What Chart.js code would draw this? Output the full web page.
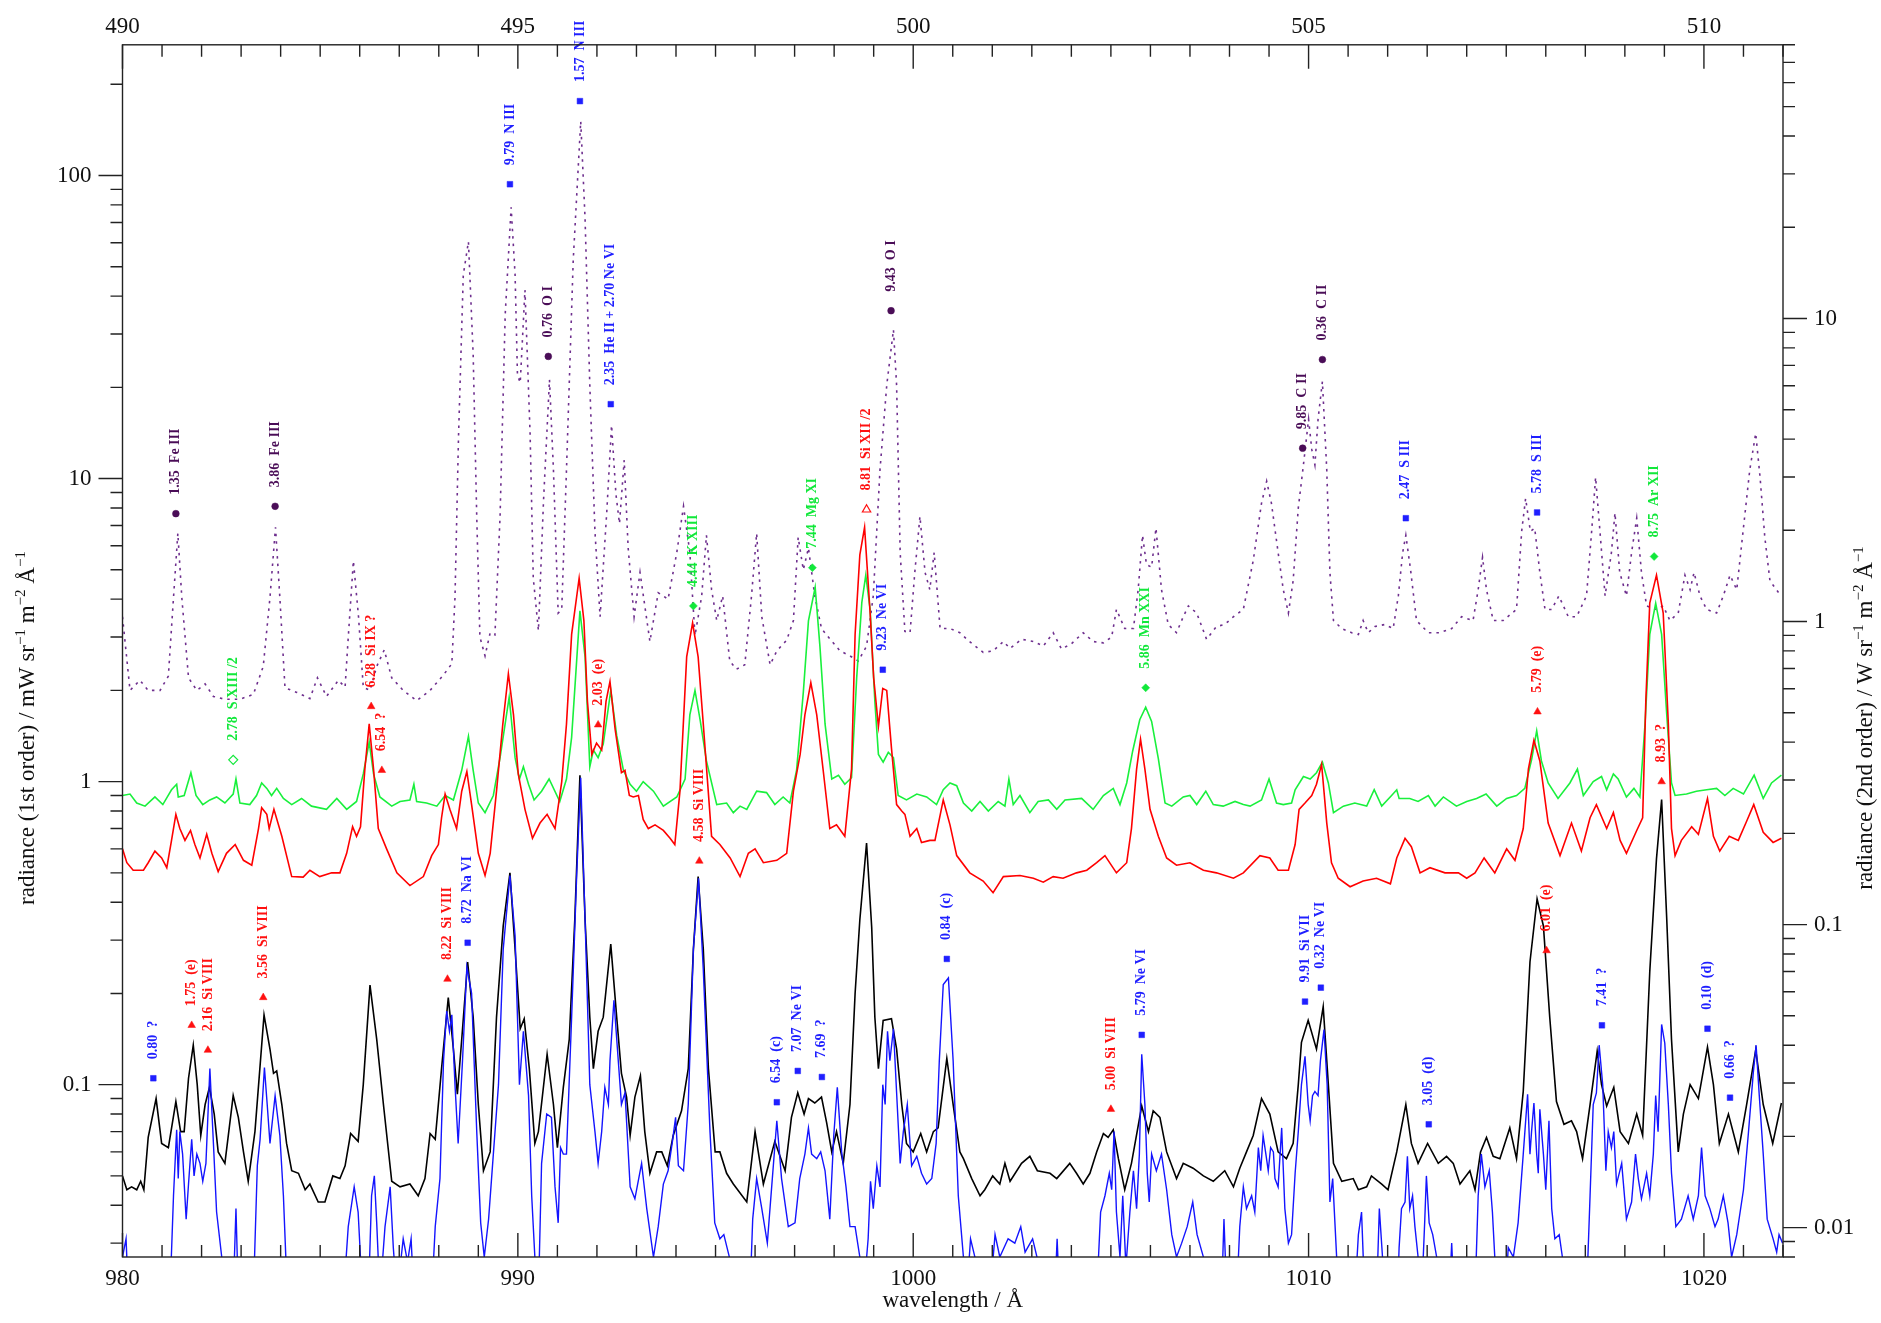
<!DOCTYPE html>
<html lang="en">
<head>
<meta charset="UTF-8">
<title>Spectrum 980 - 1022 Å</title>
<script src="https://cdn.jsdelivr.net/npm/chart.js"></script>
<style>
  body { margin: 0; background: #fff; }
  #wrap { width: 1881px; height: 1323px; }
</style>
</head>
<body>
<div id="wrap"><canvas id="spec" width="1881" height="1323"></canvas></div>
<script>
// spectra: [wavelength (Å), radiance (1st order units)]
const purpleSpec = [
  [980.00,3.5],[980.19,2.0],[980.44,2.16],[980.65,2.0],[980.95,2.0],[981.16,2.23],[981.29,4.05],[981.40,6.6],[981.50,4.05],[981.67,2.2],
  [981.88,2.0],[982.09,2.1],[982.30,1.91],[982.59,1.87],[982.97,1.87],[983.31,1.94],[983.56,2.4],[983.73,4.05],[983.87,6.9],[983.98,4.05],
  [984.11,2.04],[984.41,1.97],[984.74,1.88],[984.93,2.2],[985.16,1.91],[985.46,2.16],[985.63,2.05],[985.71,2.99],[985.84,5.35],[985.97,3.5],
  [986.09,2.05],[986.26,2.0],[986.43,2.4],[986.62,2.72],[986.81,2.2],[987.10,2.0],[987.44,1.85],[987.78,2.0],[988.12,2.25],[988.33,2.45],
  [988.41,4.05],[988.50,13.9],[988.62,47],[988.75,60.5],[988.87,25.6],[988.96,7.5],[989.04,3.0],[989.17,2.6],[989.30,3.1],[989.42,3.05],
  [989.55,7.5],[989.68,34.8],[989.83,78.5],[989.93,47],[989.99,22],[990.06,20.7],[990.18,41.9],[990.31,14],[990.39,4.7],[990.52,3.15],
  [990.65,8.5],[990.80,21.2],[990.90,10.7],[991.02,3.6],[991.11,3.7],[991.23,10.7],[991.40,52.4],[991.59,151],[991.70,72],[991.82,20.3],
  [991.95,6.7],[992.08,3.5],[992.25,7.8],[992.37,15],[992.48,8.9],[992.57,7.1],[992.69,11.5],[992.79,5.9],[992.94,3.5],[993.09,4.9],
  [993.34,2.9],[993.55,4.2],[993.80,4.0],[994.02,5.7],[994.19,8.1],[994.35,5.7],[994.48,3.03],[994.65,4.1],[994.77,6.5],[994.90,4.3],
  [995.03,3.4],[995.18,4.1],[995.36,2.5],[995.53,2.35],[995.74,2.43],[995.91,4.1],[996.04,6.6],[996.17,3.5],[996.38,2.43],[996.55,2.7],
  [996.80,2.93],[996.97,3.4],[997.09,6.4],[997.22,5.0],[997.35,5.9],[997.51,4.1],[997.68,3.2],[997.89,2.96],[998.15,2.7],[998.40,2.6],
  [998.61,2.5],[998.82,2.8],[998.99,4.1],[999.16,10.7],[999.33,20.3],[999.50,31],[999.58,20.3],[999.67,5.7],[999.79,3.13],[999.92,3.1],
  [1000.04,4.9],[1000.17,7.5],[1000.30,4.9],[1000.42,4.3],[1000.53,5.7],[1000.68,3.2],[1000.93,3.2],[1001.18,3.1],[1001.42,2.9],[1001.77,2.67],
  [1002.02,2.7],[1002.28,2.9],[1002.45,2.75],[1002.74,2.95],[1003.04,2.9],[1003.29,2.8],[1003.54,3.1],[1003.75,2.74],[1004.00,2.85],[1004.30,3.1],
  [1004.55,2.9],[1004.81,2.87],[1005.02,3.0],[1005.14,3.7],[1005.35,3.2],[1005.57,3.2],[1005.69,4.3],[1005.80,6.5],[1005.90,5.2],[1006.03,5.1],
  [1006.14,6.86],[1006.28,4.3],[1006.45,3.3],[1006.66,3.1],[1006.83,3.5],[1006.96,3.8],[1007.17,3.6],[1007.42,2.95],[1007.67,3.25],[1007.88,3.3],
  [1008.10,3.5],[1008.35,3.7],[1008.60,5.36],[1008.81,8.3],[1008.94,9.8],[1009.06,8.3],[1009.23,5.7],[1009.36,4.3],[1009.49,3.6],[1009.61,4.6],
  [1009.74,8.0],[1009.87,11.1],[1010.00,15.7],[1010.08,12.5],[1010.16,11.1],[1010.24,15.7],[1010.35,20.9],[1010.46,10.7],[1010.54,4.9],[1010.63,3.4],
  [1010.84,3.2],[1011.09,3.1],[1011.26,3.06],[1011.38,3.4],[1011.51,3.1],[1011.68,3.25],[1011.93,3.3],[1012.14,3.2],[1012.27,4.1],[1012.38,5.7],
  [1012.46,6.5],[1012.58,5.0],[1012.73,3.4],[1013.03,3.1],[1013.32,3.1],[1013.62,3.2],[1013.87,3.5],[1014.16,3.4],[1014.29,4.3],[1014.40,5.5],
  [1014.50,4.3],[1014.67,3.4],[1014.92,3.4],[1015.26,3.7],[1015.39,6.7],[1015.49,8.6],[1015.61,6.7],[1015.72,6.86],[1015.85,4.9],[1015.98,3.7],
  [1016.15,3.7],[1016.33,4.1],[1016.57,3.5],[1016.78,3.5],[1017.03,4.1],[1017.16,6.7],[1017.26,10.1],[1017.37,6.7],[1017.50,4.1],[1017.66,5.7],
  [1017.75,7.7],[1017.87,4.9],[1018.04,4.1],[1018.17,5.7],[1018.30,7.4],[1018.42,4.9],[1018.55,3.8],[1018.80,3.7],[1018.97,3.8],[1019.14,3.4],
  [1019.35,3.6],[1019.52,4.8],[1019.65,4.3],[1019.75,4.9],[1019.90,4.1],[1020.07,3.7],[1020.32,3.6],[1020.49,4.1],[1020.66,4.8],[1020.83,4.3],
  [1020.99,6.7],[1021.16,10.7],[1021.31,14.1],[1021.42,10.1],[1021.54,6.4],[1021.67,4.6],[1021.92,4.15]
];

const redSpec = [
  [980.00,0.60],[980.11,0.54],[980.27,0.51],[980.53,0.51],[980.65,0.54],[980.82,0.59],[980.99,0.56],[981.12,0.52],[981.24,0.64],[981.35,0.78],
  [981.45,0.70],[981.58,0.64],[981.72,0.69],[981.83,0.62],[981.96,0.56],[982.13,0.67],[982.26,0.58],[982.42,0.505],[982.63,0.58],[982.85,0.62],
  [983.06,0.55],[983.27,0.53],[983.44,0.70],[983.52,0.82],[983.65,0.78],[983.71,0.70],[983.83,0.81],[984.03,0.66],[984.28,0.486],[984.57,0.484],
  [984.74,0.51],[984.99,0.486],[985.29,0.50],[985.50,0.50],[985.67,0.58],[985.82,0.71],[985.92,0.66],[986.02,0.71],[986.13,1.10],[986.24,1.55],
  [986.35,1.10],[986.47,0.70],[986.68,0.60],[986.94,0.50],[987.27,0.454],[987.61,0.486],[987.82,0.57],[987.99,0.62],[988.07,0.76],[988.16,0.91],
  [988.28,0.81],[988.45,0.70],[988.58,0.93],[988.71,1.08],[988.83,0.84],[989.00,0.58],[989.17,0.49],[989.30,0.58],[989.46,0.93],[989.62,1.55],
  [989.76,2.27],[989.89,1.66],[990.01,1.06],[990.18,0.81],[990.37,0.65],[990.56,0.73],[990.74,0.78],[990.94,0.70],[991.11,1.0],[991.23,1.55],
  [991.36,3.06],[991.55,4.69],[991.67,3.4],[991.76,1.84],[991.87,1.23],[991.99,1.34],[992.12,1.27],[992.23,1.84],[992.33,2.14],[992.46,1.49],
  [992.62,1.07],[992.71,1.09],[992.82,0.90],[992.92,0.89],[993.05,0.90],[993.17,0.75],[993.30,0.70],[993.47,0.72],[993.68,0.69],[993.85,0.65],
  [993.97,0.62],[994.10,0.93],[994.27,2.58],[994.42,3.34],[994.56,2.58],[994.69,1.55],[994.90,0.66],[995.11,0.62],[995.37,0.56],[995.62,0.486],
  [995.83,0.58],[996.00,0.60],[996.21,0.54],[996.55,0.55],[996.80,0.58],[996.97,0.93],[997.14,1.23],[997.26,1.66],[997.41,2.12],[997.56,1.66],
  [997.73,1.07],[997.89,0.70],[998.06,0.72],[998.27,0.66],[998.44,1.10],[998.53,3.06],[998.65,5.6],[998.77,6.9],[998.91,3.6],[999.00,2.2],
  [999.12,1.52],[999.23,2.03],[999.33,2.0],[999.45,1.29],[999.58,0.84],[999.71,0.80],[999.79,0.78],[999.92,0.66],[1000.09,0.70],[1000.21,0.63],
  [1000.42,0.64],[1000.55,0.64],[1000.76,0.87],[1000.93,0.72],[1001.10,0.57],[1001.43,0.50],[1001.77,0.47],[1002.02,0.43],[1002.28,0.486],[1002.70,0.49],
  [1003.04,0.48],[1003.29,0.466],[1003.54,0.486],[1003.79,0.48],[1004.13,0.50],[1004.39,0.51],[1004.64,0.54],[1004.85,0.57],[1005.14,0.50],[1005.40,0.54],
  [1005.52,0.70],[1005.65,1.10],[1005.75,1.38],[1005.86,1.10],[1005.99,0.81],[1006.20,0.66],[1006.41,0.56],[1006.66,0.53],[1007.00,0.54],[1007.34,0.51],
  [1007.67,0.50],[1008.10,0.48],[1008.35,0.50],[1008.77,0.57],[1009.02,0.56],[1009.23,0.51],[1009.49,0.51],[1009.66,0.62],[1009.76,0.81],[1009.91,0.85],
  [1010.08,0.90],[1010.20,0.98],[1010.33,1.14],[1010.46,0.73],[1010.58,0.54],[1010.75,0.48],[1011.05,0.45],[1011.38,0.47],[1011.72,0.48],[1012.07,0.46],
  [1012.23,0.56],[1012.44,0.65],[1012.60,0.61],[1012.82,0.50],[1013.07,0.52],[1013.45,0.50],[1013.79,0.50],[1014.00,0.48],[1014.21,0.50],[1014.44,0.56],
  [1014.71,0.50],[1015.01,0.60],[1015.22,0.55],[1015.43,0.70],[1015.56,1.10],[1015.70,1.37],[1015.85,1.17],[1016.06,0.73],[1016.36,0.57],[1016.65,0.73],
  [1016.90,0.59],[1017.12,0.76],[1017.28,0.84],[1017.54,0.70],[1017.71,0.79],[1017.88,0.64],[1018.04,0.58],[1018.30,0.69],[1018.45,0.76],[1018.53,1.84],
  [1018.63,3.88],[1018.80,4.8],[1018.97,3.6],[1019.10,1.55],[1019.18,0.70],[1019.27,0.57],[1019.43,0.64],[1019.69,0.71],[1019.86,0.67],[1020.09,0.88],
  [1020.24,0.66],[1020.40,0.59],[1020.64,0.66],[1020.87,0.64],[1021.08,0.74],[1021.26,0.84],[1021.50,0.68],[1021.75,0.63],[1021.96,0.65]
];

const greenSpec = [
  [980.00,0.90],[980.19,0.91],[980.36,0.85],[980.57,0.83],[980.82,0.89],[981.02,0.84],[981.24,0.94],[981.37,0.98],[981.41,0.89],[981.56,0.90],
  [981.73,1.07],[981.86,0.90],[982.03,0.84],[982.21,0.87],[982.38,0.89],[982.59,0.85],[982.80,0.91],[982.87,1.02],[982.97,0.85],[983.22,0.84],
  [983.39,0.90],[983.52,0.99],[983.65,0.95],[983.77,0.90],[983.90,0.95],[984.07,0.88],[984.28,0.84],[984.53,0.88],[984.78,0.83],[985.16,0.81],
  [985.42,0.88],[985.67,0.81],[985.92,0.86],[986.09,1.06],[986.24,1.35],[986.35,1.06],[986.51,0.89],[986.81,0.83],[987.02,0.86],[987.27,0.87],
  [987.37,0.98],[987.44,0.86],[987.69,0.85],[987.95,0.83],[988.16,0.90],[988.37,0.87],[988.58,1.09],[988.75,1.41],[988.87,1.09],[989.00,0.85],
  [989.17,0.79],[989.38,0.90],[989.55,1.2],[989.78,1.90],[989.93,1.2],[990.04,1.02],[990.14,1.12],[990.27,0.98],[990.41,0.87],[990.60,0.93],
  [990.79,1.02],[991.06,0.86],[991.23,1.02],[991.36,1.40],[991.57,3.66],[991.70,2.58],[991.82,1.12],[991.91,1.27],[992.03,1.20],[992.16,1.33],
  [992.35,2.0],[992.50,1.42],[992.67,1.09],[992.84,0.98],[993.00,0.93],[993.17,1.0],[993.43,0.93],[993.68,0.83],[994.02,0.89],[994.23,1.02],
  [994.35,1.66],[994.48,2.0],[994.61,1.6],[994.77,1.17],[995.03,0.84],[995.28,0.85],[995.45,0.79],[995.62,0.83],[995.79,0.81],[996.04,0.93],
  [996.29,0.92],[996.50,0.84],[996.71,0.89],[996.88,0.85],[997.05,1.09],[997.22,1.97],[997.35,3.39],[997.52,4.38],[997.64,2.8],[997.77,1.55],
  [997.94,1.02],[998.11,1.05],[998.27,0.98],[998.44,1.03],[998.57,2.2],[998.70,3.9],[998.80,4.8],[998.91,3.7],[999.03,1.84],[999.12,1.23],
  [999.24,1.16],[999.37,1.25],[999.50,1.2],[999.62,0.90],[999.83,0.87],[1000.09,0.91],[1000.34,0.89],[1000.59,0.84],[1000.76,0.94],[1000.93,0.99],
  [1001.10,0.97],[1001.27,0.85],[1001.48,0.80],[1001.69,0.86],[1001.90,0.80],[1002.15,0.86],[1002.32,0.83],[1002.42,1.02],[1002.53,0.84],[1002.70,0.90],
  [1002.95,0.79],[1003.16,0.86],[1003.42,0.87],[1003.63,0.81],[1003.84,0.87],[1004.26,0.88],[1004.55,0.81],[1004.81,0.90],[1005.06,0.95],[1005.23,0.84],
  [1005.40,0.99],[1005.55,1.26],[1005.73,1.60],[1005.88,1.76],[1006.03,1.58],[1006.20,1.19],[1006.37,0.85],[1006.54,0.83],[1006.83,0.89],[1007.00,0.90],
  [1007.17,0.84],[1007.40,0.93],[1007.59,0.84],[1007.84,0.83],[1008.14,0.86],[1008.35,0.84],[1008.52,0.83],[1008.81,0.87],[1009.00,1.02],[1009.19,0.85],
  [1009.36,0.84],[1009.57,0.85],[1009.66,0.94],[1009.87,1.04],[1010.04,1.02],[1010.20,1.07],[1010.35,1.16],[1010.50,0.99],[1010.63,0.79],[1010.88,0.83],
  [1011.17,0.85],[1011.47,0.83],[1011.66,0.94],[1011.85,0.83],[1012.10,0.90],[1012.23,0.94],[1012.29,0.88],[1012.56,0.88],[1012.77,0.86],[1013.03,0.90],
  [1013.20,0.83],[1013.41,0.89],[1013.74,0.83],[1014.00,0.86],[1014.25,0.88],[1014.49,0.91],[1014.76,0.83],[1015.01,0.88],[1015.26,0.90],[1015.47,0.95],
  [1015.64,1.18],[1015.77,1.47],[1015.89,1.17],[1016.06,0.99],[1016.31,0.88],[1016.61,0.99],[1016.80,1.10],[1016.95,0.90],[1017.20,1.0],[1017.41,1.04],
  [1017.54,0.94],[1017.71,1.06],[1017.83,1.02],[1018.04,0.89],[1018.23,0.95],[1018.38,0.89],[1018.51,1.55],[1018.63,3.06],[1018.78,3.88],[1018.93,3.06],
  [1019.06,1.66],[1019.18,0.99],[1019.27,0.90],[1019.56,0.91],[1019.81,0.93],[1020.07,0.94],[1020.32,0.95],[1020.53,0.90],[1020.74,0.95],[1021.00,0.91],
  [1021.27,1.05],[1021.50,0.88],[1021.71,0.99],[1021.96,1.05]
];

const blackSpec = [
  [980.00,0.050],[980.11,0.045],[980.23,0.046],[980.36,0.045],[980.46,0.048],[980.54,0.045],[980.65,0.067],[980.85,0.090],[980.99,0.064],[981.16,0.062],
  [981.35,0.088],[981.47,0.070],[981.56,0.070],[981.67,0.105],[981.79,0.135],[981.89,0.10],[981.98,0.068],[982.09,0.086],[982.20,0.098],[982.32,0.080],
  [982.42,0.060],[982.59,0.055],[982.80,0.092],[982.93,0.078],[983.06,0.060],[983.18,0.048],[983.35,0.070],[983.58,0.170],[983.73,0.131],[983.82,0.109],
  [983.90,0.111],[984.03,0.086],[984.15,0.064],[984.28,0.052],[984.45,0.051],[984.62,0.045],[984.74,0.047],[984.95,0.041],[985.12,0.041],[985.32,0.050],
  [985.50,0.049],[985.63,0.054],[985.77,0.069],[985.96,0.065],[986.09,0.100],[986.26,0.213],[986.43,0.141],[986.60,0.086],[986.81,0.048],[987.02,0.046],
  [987.27,0.047],[987.48,0.043],[987.65,0.049],[987.78,0.069],[987.91,0.066],[988.07,0.113],[988.24,0.194],[988.37,0.131],[988.47,0.093],[988.58,0.141],
  [988.73,0.254],[988.87,0.167],[989.00,0.086],[989.13,0.052],[989.30,0.060],[989.46,0.167],[989.63,0.334],[989.80,0.50],[989.93,0.28],[990.06,0.153],
  [990.16,0.165],[990.29,0.113],[990.43,0.064],[990.52,0.070],[990.74,0.126],[990.90,0.086],[991.00,0.062],[991.15,0.098],[991.30,0.141],[991.44,0.35],
  [991.57,1.05],[991.70,0.35],[991.82,0.167],[991.91,0.113],[992.03,0.15],[992.16,0.167],[992.35,0.291],[992.50,0.167],[992.62,0.109],[992.75,0.091],
  [992.84,0.068],[992.96,0.091],[993.10,0.107],[993.21,0.070],[993.34,0.051],[993.51,0.060],[993.64,0.060],[993.78,0.054],[993.93,0.068],[994.14,0.082],
  [994.31,0.113],[994.44,0.28],[994.56,0.486],[994.69,0.28],[994.82,0.113],[994.99,0.060],[995.11,0.060],[995.28,0.051],[995.45,0.047],[995.79,0.041],
  [996.00,0.070],[996.21,0.047],[996.50,0.065],[996.76,0.052],[996.92,0.078],[997.08,0.094],[997.24,0.080],[997.35,0.090],[997.51,0.087],[997.68,0.091],
  [997.81,0.075],[997.94,0.060],[998.06,0.070],[998.23,0.055],[998.40,0.086],[998.53,0.20],[998.65,0.35],[998.82,0.627],[998.95,0.33],[999.03,0.167],
  [999.12,0.113],[999.24,0.163],[999.45,0.165],[999.58,0.131],[999.71,0.086],[999.83,0.064],[1000.00,0.060],[1000.19,0.069],[1000.34,0.060],[1000.51,0.070],
  [1000.63,0.072],[1000.85,0.122],[1001.01,0.086],[1001.18,0.060],[1001.27,0.057],[1001.48,0.049],[1001.69,0.043],[1001.81,0.045],[1002.01,0.050],[1002.19,0.047],
  [1002.32,0.055],[1002.45,0.048],[1002.74,0.055],[1002.95,0.058],[1003.14,0.052],[1003.46,0.051],[1003.63,0.049],[1003.96,0.055],[1004.13,0.051],[1004.30,0.047],
  [1004.47,0.051],[1004.64,0.060],[1004.81,0.069],[1004.93,0.067],[1005.06,0.071],[1005.19,0.057],[1005.35,0.045],[1005.52,0.055],[1005.78,0.085],[1005.95,0.070],
  [1006.07,0.082],[1006.24,0.078],[1006.41,0.060],[1006.66,0.049],[1006.83,0.055],[1007.08,0.053],[1007.34,0.050],[1007.59,0.048],[1007.88,0.052],[1008.10,0.046],
  [1008.26,0.053],[1008.43,0.060],[1008.60,0.068],[1008.81,0.090],[1009.02,0.080],[1009.23,0.060],[1009.44,0.057],[1009.61,0.064],[1009.74,0.100],[1009.82,0.138],
  [1009.99,0.163],[1010.20,0.131],[1010.37,0.181],[1010.50,0.100],[1010.63,0.055],[1010.84,0.048],[1011.13,0.049],[1011.26,0.045],[1011.47,0.046],[1011.59,0.050],
  [1011.85,0.047],[1012.01,0.045],[1012.23,0.060],[1012.46,0.086],[1012.60,0.064],[1012.77,0.055],[1013.01,0.064],[1013.28,0.055],[1013.49,0.058],[1013.66,0.055],
  [1013.83,0.047],[1014.08,0.052],[1014.21,0.045],[1014.35,0.060],[1014.50,0.067],[1014.67,0.058],[1014.84,0.057],[1015.09,0.072],[1015.26,0.057],[1015.43,0.095],
  [1015.60,0.254],[1015.78,0.41],[1015.94,0.334],[1016.10,0.167],[1016.27,0.088],[1016.46,0.074],[1016.65,0.076],[1016.78,0.070],[1016.93,0.057],[1017.12,0.086],
  [1017.30,0.129],[1017.41,0.100],[1017.54,0.085],[1017.72,0.098],[1017.88,0.070],[1018.09,0.064],[1018.30,0.080],[1018.45,0.068],[1018.63,0.236],[1018.80,0.557],
  [1018.93,0.873],[1019.06,0.35],[1019.18,0.141],[1019.35,0.060],[1019.48,0.080],[1019.65,0.100],[1019.86,0.090],[1020.09,0.133],[1020.24,0.100],[1020.39,0.064],
  [1020.62,0.080],[1020.87,0.060],[1021.08,0.086],[1021.31,0.130],[1021.50,0.086],[1021.74,0.064],[1021.96,0.087]
];

const blueSpec = [
  [980.00,0.027],[980.09,0.031],[980.15,0.02],[981.20,0.02],[981.29,0.043],[981.37,0.071],[981.41,0.049],[981.45,0.070],[981.52,0.059],[981.61,0.036],
  [981.67,0.047],[981.75,0.066],[981.81,0.050],[981.88,0.059],[981.96,0.055],[982.03,0.048],[982.11,0.055],[982.21,0.113],[982.30,0.064],[982.38,0.038],
  [982.51,0.027],[982.59,0.02],[982.80,0.02],[982.87,0.039],[982.93,0.02],[983.31,0.02],[983.41,0.054],[983.48,0.066],[983.59,0.114],[983.66,0.086],
  [983.73,0.064],[983.86,0.092],[983.98,0.068],[984.07,0.043],[984.17,0.02],[985.59,0.02],[985.71,0.034],[985.86,0.046],[985.96,0.038],[986.07,0.02],
  [986.22,0.02],[986.30,0.043],[986.37,0.050],[986.43,0.035],[986.51,0.02],[986.64,0.034],[986.77,0.046],[986.85,0.029],[986.94,0.02],[987.10,0.031],
  [987.21,0.026],[987.30,0.031],[987.37,0.02],[987.82,0.02],[987.91,0.034],[988.03,0.049],[988.12,0.12],[988.20,0.175],[988.27,0.15],[988.33,0.17],
  [988.41,0.10],[988.49,0.064],[988.60,0.12],[988.71,0.245],[988.83,0.20],[988.96,0.070],[989.06,0.035],[989.15,0.027],[989.26,0.036],[989.38,0.059],
  [989.51,0.10],[989.63,0.28],[989.80,0.49],[989.93,0.31],[990.04,0.10],[990.14,0.15],[990.27,0.092],[990.35,0.043],[990.43,0.027],[990.52,0.02],
  [990.60,0.055],[990.73,0.08],[990.85,0.078],[990.94,0.046],[991.02,0.035],[991.08,0.062],[991.15,0.059],[991.23,0.059],[991.36,0.167],[991.49,0.50],
  [991.59,1.03],[991.70,0.35],[991.82,0.10],[991.95,0.070],[992.03,0.055],[992.12,0.070],[992.20,0.098],[992.29,0.086],[992.33,0.12],[992.43,0.19],
  [992.54,0.12],[992.62,0.086],[992.71,0.094],[992.84,0.046],[992.96,0.042],[993.13,0.055],[993.26,0.039],[993.43,0.027],[993.55,0.034],[993.68,0.047],
  [993.80,0.052],[993.91,0.065],[993.99,0.078],[994.06,0.054],[994.19,0.052],[994.31,0.086],[994.44,0.28],[994.57,0.48],[994.69,0.24],[994.86,0.070],
  [994.98,0.035],[995.11,0.031],[995.21,0.032],[995.35,0.027],[995.45,0.02],[995.87,0.02],[995.94,0.036],[996.04,0.049],[996.17,0.039],[996.31,0.030],
  [996.42,0.046],[996.55,0.076],[996.67,0.049],[996.84,0.034],[997.01,0.035],[997.13,0.049],[997.26,0.059],[997.35,0.072],[997.43,0.059],[997.56,0.057],
  [997.66,0.060],[997.77,0.052],[997.89,0.036],[997.99,0.068],[998.08,0.098],[998.19,0.060],[998.30,0.046],[998.40,0.034],[998.53,0.034],[998.65,0.027],
  [998.74,0.02],[998.86,0.031],[998.92,0.048],[998.99,0.039],[999.08,0.054],[999.16,0.046],[999.23,0.10],[999.29,0.086],[999.35,0.15],[999.41,0.12],
  [999.50,0.153],[999.58,0.094],[999.67,0.055],[999.75,0.070],[999.85,0.086],[999.96,0.054],[1000.09,0.058],[1000.21,0.051],[1000.34,0.047],[1000.47,0.049],
  [1000.58,0.064],[1000.66,0.12],[1000.76,0.214],[1000.89,0.225],[1001.01,0.12],[1001.14,0.043],[1001.27,0.027],[1001.35,0.02],[1001.45,0.031],[1001.56,0.027],
  [1001.65,0.02],[1001.94,0.02],[1002.07,0.032],[1002.19,0.027],[1002.40,0.031],[1002.57,0.030],[1002.72,0.034],[1002.83,0.028],[1003.02,0.031],[1003.16,0.026],
  [1003.25,0.02],[1003.58,0.02],[1003.64,0.031],[1003.70,0.02],[1004.64,0.02],[1004.74,0.038],[1004.85,0.043],[1004.96,0.051],[1005.02,0.045],[1005.08,0.070],
  [1005.14,0.038],[1005.23,0.027],[1005.30,0.043],[1005.38,0.025],[1005.48,0.038],[1005.57,0.052],[1005.65,0.039],[1005.72,0.059],[1005.78,0.126],[1005.86,0.086],
  [1005.92,0.051],[1005.97,0.041],[1006.03,0.059],[1006.15,0.052],[1006.28,0.059],[1006.41,0.045],[1006.54,0.032],[1006.66,0.027],[1006.79,0.030],[1006.93,0.034],
  [1007.07,0.041],[1007.18,0.032],[1007.34,0.027],[1007.42,0.02],[1007.80,0.02],[1007.86,0.036],[1007.93,0.02],[1008.18,0.02],[1008.26,0.034],[1008.35,0.046],
  [1008.43,0.039],[1008.56,0.043],[1008.64,0.038],[1008.73,0.062],[1008.79,0.052],[1008.85,0.068],[1008.92,0.059],[1008.98,0.052],[1009.04,0.062],[1009.11,0.060],
  [1009.15,0.049],[1009.23,0.046],[1009.32,0.072],[1009.40,0.039],[1009.49,0.030],[1009.57,0.032],[1009.66,0.051],[1009.74,0.070],[1009.82,0.10],[1009.91,0.124],
  [1009.99,0.086],[1010.04,0.076],[1010.10,0.092],[1010.16,0.095],[1010.24,0.092],[1010.30,0.12],[1010.39,0.152],[1010.47,0.10],[1010.54,0.041],[1010.61,0.049],
  [1010.71,0.027],[1010.79,0.02],[1011.17,0.02],[1011.26,0.032],[1011.34,0.038],[1011.42,0.02],[1011.72,0.02],[1011.79,0.039],[1011.87,0.027],[1011.95,0.02],
  [1012.25,0.02],[1012.29,0.029],[1012.35,0.039],[1012.44,0.041],[1012.50,0.058],[1012.56,0.039],[1012.63,0.043],[1012.69,0.034],[1012.77,0.027],[1012.86,0.02],
  [1012.94,0.036],[1012.98,0.050],[1013.05,0.035],[1013.14,0.032],[1013.24,0.027],[1013.32,0.02],[1013.56,0.02],[1013.62,0.030],[1013.68,0.02],[1014.21,0.02],
  [1014.29,0.043],[1014.37,0.059],[1014.46,0.046],[1014.57,0.052],[1014.65,0.038],[1014.71,0.027],[1014.80,0.02],[1014.98,0.02],[1015.05,0.029],[1015.18,0.027],
  [1015.30,0.035],[1015.43,0.059],[1015.54,0.093],[1015.60,0.059],[1015.64,0.070],[1015.70,0.087],[1015.77,0.059],[1015.81,0.051],[1015.85,0.083],[1015.94,0.059],
  [1016.00,0.045],[1016.08,0.076],[1016.15,0.039],[1016.23,0.031],[1016.34,0.032],[1016.42,0.027],[1016.52,0.02],[1017.03,0.02],[1017.12,0.043],[1017.20,0.086],
  [1017.28,0.094],[1017.35,0.135],[1017.44,0.10],[1017.52,0.052],[1017.58,0.070],[1017.66,0.062],[1017.72,0.070],[1017.79,0.047],[1017.92,0.055],[1018.04,0.036],
  [1018.17,0.041],[1018.27,0.059],[1018.34,0.049],[1018.42,0.042],[1018.55,0.051],[1018.63,0.043],[1018.72,0.059],[1018.78,0.092],[1018.84,0.070],[1018.93,0.158],
  [1019.01,0.137],[1019.10,0.086],[1019.18,0.051],[1019.29,0.034],[1019.43,0.036],[1019.60,0.043],[1019.73,0.036],[1019.86,0.043],[1019.94,0.062],[1020.03,0.043],
  [1020.15,0.039],[1020.28,0.034],[1020.36,0.036],[1020.49,0.043],[1020.61,0.035],[1020.70,0.027],[1020.83,0.032],[1021.00,0.045],[1021.12,0.068],[1021.25,0.11],
  [1021.32,0.135],[1021.40,0.092],[1021.50,0.059],[1021.60,0.036],[1021.75,0.031],[1021.84,0.028],[1021.90,0.032],[1021.99,0.030]
];

// line identifications: [wavelength, marker level, label]
const purpleIds = [
  [981.35, 7.66, '1.35  Fe III'], [983.86, 8.1, '3.86  Fe III'], [990.77, 25.3, '0.76  O I'],
  [999.44, 35.8, '9.43  O I'], [1009.85, 12.6, '9.85  C II'], [1010.35, 24.7, '0.36  C II']
];
const blueIds = [
  [989.80, 93.6, '9.79  N III'], [991.57, 176, '1.57  N III'], [992.35, 17.6, '2.35  He II + 2.70 Ne VI'],
  [999.23, 2.34, '9.23  Ne VI'], [1012.46, 7.4, '2.47  S III'], [1015.78, 7.73, '5.78  S III'],
  [980.78, 0.105, '0.80  ?'], [988.73, 0.294, '8.72  Na VI'], [1000.85, 0.26, '0.84  (c)'],
  [996.55, 0.0875, '6.54  (c)'], [997.08, 0.111, '7.07  Ne VI'], [997.69, 0.106, '7.69  ?'],
  [1005.78, 0.146, '5.79  Ne VI'], [1009.91, 0.188, '9.91  Si VII'], [1010.31, 0.209, '0.32  Ne VI'],
  [1013.04, 0.074, '3.05  (d)'], [1017.42, 0.157, '7.41  ?'], [1020.09, 0.153, '0.10  (d)'],
  [1020.66, 0.0906, '0.66  ?']
];
const redIds = [
  [986.29, 1.77, '6.28  Si IX ?'], [986.56, 1.09, '6.54  ?'], [992.03, 1.54, '2.03  (e)'],
  [994.59, 0.547, '4.58  Si VIII'], [1015.79, 1.70, '5.79  (e)'], [1018.93, 1.0, '8.93  ?'],
  [1016.02, 0.277, '6.01  (e)'], [981.75, 0.157, '1.75  (e)'], [982.16, 0.13, '2.16  Si VIII'],
  [983.56, 0.194, '3.56  Si VIII'], [988.22, 0.223, '8.22  Si VIII'], [1005.00, 0.083, '5.00  Si VIII']
];
const redOpenIds = [[998.82, 7.9, '8.81  Si XII /2']];
const greenIds = [
  [994.44, 3.8, '4.44  K XIII'], [997.45, 5.08, '7.44  Mg XI'],
  [1005.88, 2.04, '5.86  Mn XXI'], [1018.74, 5.53, '8.75  Ar XII']
];
const greenOpenIds = [[982.80, 1.18, '2.78  S XIII /2']];

const SERIF = '"Liberation Serif", "Times New Roman", serif';
const pts = arr => arr.map(p => ({ x: p[0], y: p[1] }));

function spectrum(arr, color, width, order, dash) {
  return {
    type: 'line', data: pts(arr), borderColor: color, borderWidth: width,
    borderDash: dash || [], pointRadius: 0, tension: 0, order: order,
    xAxisID: 'x', yAxisID: 'y'
  };
}
function marks(ids, color, style, radius, open) {
  return {
    type: 'scatter', data: pts(ids), idText: ids.map(d => d[2]),
    labelColor: color, pointStyle: style, pointRadius: radius,
    backgroundColor: open ? 'rgba(0,0,0,0)' : color, borderColor: color,
    borderWidth: open ? 1.2 : 0.5, order: 0, clip: false,
    xAxisID: 'x', yAxisID: 'y'
  };
}

function logTicks(min, max) {
  const out = [];
  for (let e = Math.floor(Math.log10(min)); e <= Math.ceil(Math.log10(max)); e++) {
    for (let m = 1; m <= 9; m++) {
      const v = m * Math.pow(10, e);
      if (v >= min * 0.9999 && v <= max * 1.0001) out.push({ v: v, major: m === 1 });
    }
  }
  return out;
}
const isDecade = v => Math.abs(Math.log10(v) - Math.round(Math.log10(v))) < 1e-6;
const decadeLabel = v => isDecade(v) ? String(+v.toPrecision(1)) : '';

// frame, tick marks and axis titles
const frameTicks = {
  id: 'frameTicks',
  afterDraw(chart) {
    const { ctx, chartArea: a, scales } = chart;
    ctx.save();
    ctx.strokeStyle = '#222';
    ctx.lineWidth = 1.4;
    ctx.strokeRect(a.left, a.top, a.right - a.left, a.bottom - a.top);
    ctx.beginPath();
    const xb = scales.x;
    for (let v = Math.ceil(xb.min); v <= xb.max; v++) {
      const px = xb.getPixelForValue(v);
      ctx.moveTo(px, a.bottom);
      ctx.lineTo(px, a.bottom - (v % 10 === 0 ? 24 : 12));
    }
    const xt = scales.x2;
    for (let k = 0; xt.min + k * 0.5 <= xt.max + 1e-9; k++) {
      const v = xt.min + k * 0.5;
      const px = xt.getPixelForValue(v);
      ctx.moveTo(px, a.top);
      ctx.lineTo(px, a.top + (Math.abs(v / 5 - Math.round(v / 5)) < 1e-9 ? 24 : 12));
    }
    logTicks(scales.y.min, scales.y.max).forEach(t => {
      const py = scales.y.getPixelForValue(t.v);
      ctx.moveTo(a.left, py);
      ctx.lineTo(a.left - (t.major ? 24 : 12), py);
    });
    logTicks(scales.y2.min, scales.y2.max).forEach(t => {
      const py = scales.y2.getPixelForValue(t.v);
      ctx.moveTo(a.right, py);
      ctx.lineTo(a.right + (t.major ? 24 : 12), py);
    });
    ctx.stroke();

    // axis titles
    ctx.fillStyle = '#111';
    ctx.font = '23px ' + SERIF;
    ctx.textAlign = 'center';
    ctx.textBaseline = 'middle';
    ctx.fillText('wavelength / Å', (a.left + a.right) / 2, a.bottom + 44);
    drawSupTitle(ctx, [['radiance (1st order) / mW sr', 0], ['−1', 1], [' m', 0], ['−2', 1], [' Å', 0], ['−1', 1]], 26, 728);
    drawSupTitle(ctx, [['radiance (2nd order) / W sr', 0], ['−1', 1], [' m', 0], ['−2', 1], [' Å', 0], ['−1', 1]], 1864, 718);
    ctx.restore();
  }
};

function drawSupTitle(ctx, parts, cx, cy) {
  const big = '23px ' + SERIF, small = '15px ' + SERIF;
  let total = 0;
  parts.forEach(p => { ctx.font = p[1] ? small : big; total += ctx.measureText(p[0]).width; });
  ctx.save();
  ctx.translate(cx, cy);
  ctx.rotate(-Math.PI / 2);
  ctx.textAlign = 'left';
  ctx.textBaseline = 'alphabetic';
  let x = -total / 2;
  parts.forEach(p => {
    ctx.font = p[1] ? small : big;
    ctx.fillText(p[0], x, p[1] ? -1 : 8);
    x += ctx.measureText(p[0]).width;
  });
  ctx.restore();
}

// rotated identification labels above each marker
const idLabels = {
  id: 'idLabels',
  afterDatasetsDraw(chart) {
    const { ctx, scales: { x, y } } = chart;
    ctx.save();
    ctx.font = 'bold 14px ' + SERIF;
    ctx.textAlign = 'left';
    ctx.textBaseline = 'middle';
    chart.data.datasets.forEach(ds => {
      if (!ds.idText) return;
      ctx.fillStyle = ds.labelColor;
      ds.data.forEach((p, i) => {
        ctx.save();
        ctx.translate(x.getPixelForValue(p.x), y.getPixelForValue(p.y) - 19);
        ctx.rotate(-Math.PI / 2);
        ctx.fillText(ds.idText[i], 0, 0);
        ctx.restore();
      });
    });
    ctx.restore();
  }
};

const tickFont = { family: SERIF, size: 23 };
const noGrid = { display: false, drawTicks: false };

new Chart(document.getElementById('spec').getContext('2d'), {
  data: {
    datasets: [
      marks(purpleIds, '#4a0d57', 'circle', 3.4, false),
      marks(blueIds, '#1f1fff', 'rect', 4, false),
      marks(redIds, '#ff1010', 'triangle', 4.4, false),
      marks(redOpenIds, '#ff1010', 'triangle', 4.8, true),
      marks(greenIds, '#11e83a', 'rectRot', 4, false),
      marks(greenOpenIds, '#11e83a', 'rectRot', 4.5, true),
      spectrum(blueSpec, '#1414ff', 1.4, 1),
      spectrum(blackSpec, '#000000', 1.6, 2),
      spectrum(redSpec, '#ff0000', 1.6, 3),
      spectrum(greenSpec, '#19f03c', 1.6, 4),
      spectrum(purpleSpec, '#6e2f8e', 1.6, 5, [2.5, 5])
    ]
  },
  options: {
    responsive: false,
    animation: false,
    events: [],
    layout: { padding: 0 },
    plugins: { legend: { display: false }, tooltip: { enabled: false } },
    scales: {
      x: {
        type: 'linear', position: 'bottom', min: 980, max: 1022,
        grid: noGrid, border: { display: false },
        ticks: { stepSize: 10, includeBounds: false, padding: 8, maxRotation: 0, autoSkip: false,
                 color: '#111', font: tickFont, callback: v => (v % 10 === 0 ? String(v) : '') },
        afterFit: s => { s.height = 66; }
      },
      x2: {
        type: 'linear', position: 'top', min: 490, max: 511,
        grid: noGrid, border: { display: false },
        ticks: { stepSize: 5, includeBounds: false, padding: 4, maxRotation: 0, autoSkip: false,
                 color: '#111', font: tickFont, callback: v => (v % 5 === 0 ? String(v) : '') },
        afterFit: s => { s.height = 33; }
      },
      y: {
        type: 'logarithmic', position: 'left', min: 0.027, max: 270,
        grid: noGrid, border: { display: false },
        ticks: { padding: 31, autoSkip: false, color: '#111', font: tickFont, callback: decadeLabel },
        afterFit: s => { s.width = 122.5; }
      },
      y2: {
        type: 'logarithmic', position: 'right', min: 0.008, max: 80,
        grid: noGrid, border: { display: false },
        ticks: { padding: 31, autoSkip: false, color: '#111', font: tickFont, callback: decadeLabel },
        afterFit: s => { s.width = 98; }
      }
    }
  },
  plugins: [idLabels, frameTicks]
});
</script>
</body>
</html>
